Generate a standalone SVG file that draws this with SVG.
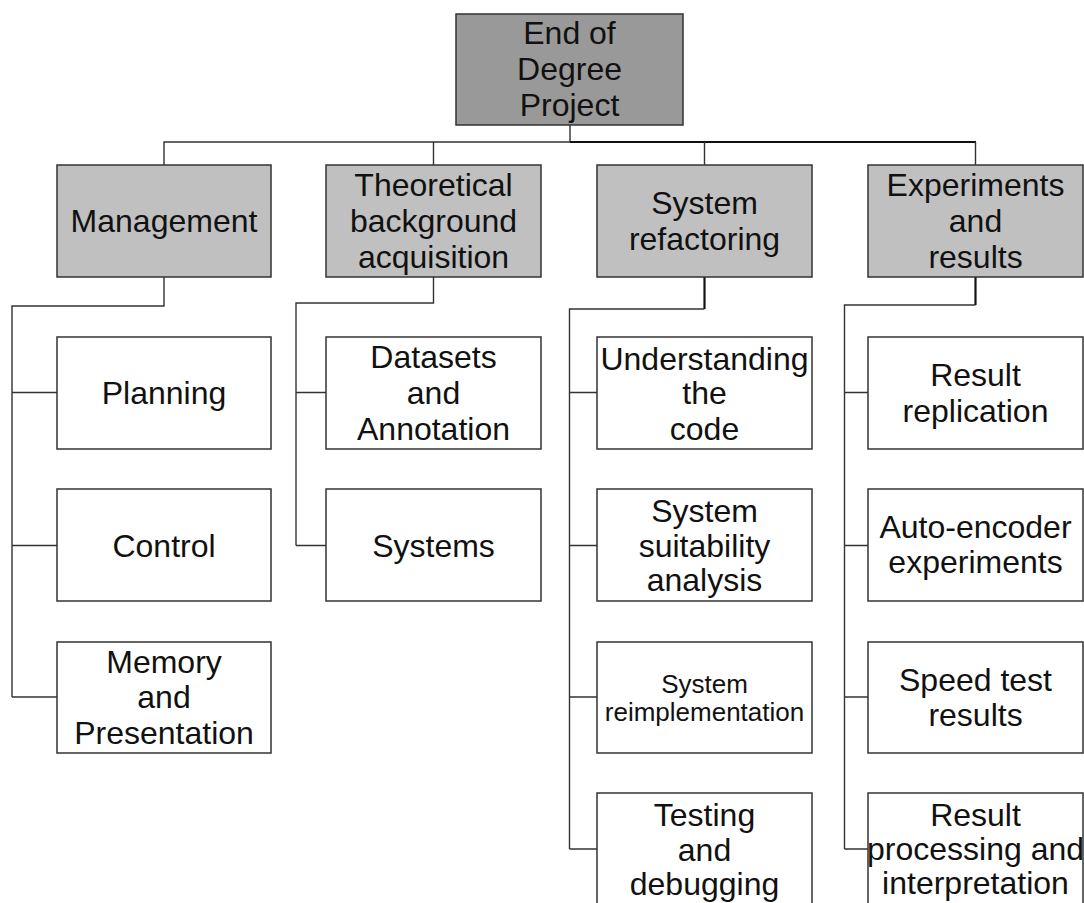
<svg xmlns="http://www.w3.org/2000/svg" width="1084" height="903" viewBox="0 0 1084 903">
  <style>
    .box { stroke: #333; stroke-width: 1.5; }
    .root { fill: #999999; }
    .mid { fill: #c0c0c0; }
    .leaf { fill: #ffffff; }
    text { font-family: "Liberation Sans", Arial, sans-serif; font-size: 32px; fill: #111; text-anchor: middle; }
    .small { font-size: 26px; }
    .wire { fill: none; stroke: #333; stroke-width: 1.4; }
    .wire.bold { stroke: #111; stroke-width: 2.2; }
  </style>
  <rect width="1084" height="903" fill="#ffffff"/>

  <!-- connectors -->
  <g id="connectors">
    <path class="wire" d="M570 125 V142 M164 165 V142 H570"/>
    <path class="wire bold" d="M570 142 H976"/>
    <path class="wire" d="M433.5 142 V165 M704.5 142 V165 M975.5 142 V165"/>
    <!-- Management branch -->
    <path class="wire" d="M164 277 V306 H12 V697 M12 392.5 H57 M12 545.5 H57 M12 697 H57"/>
    <!-- Theoretical background branch -->
    <path class="wire" d="M433.5 277 V303 H296 V545.5 M296 392.5 H326 M296 545.5 H326"/>
    <!-- System refactoring branch -->
    <path class="wire bold" d="M704.5 277 V309"/>
    <path class="wire" d="M704.5 309 H569.5 V849 M569.5 392.5 H597 M569.5 545.5 H597 M569.5 697 H597 M569.5 849 H597"/>
    <!-- Experiments branch -->
    <path class="wire bold" d="M975.5 277 V305"/>
    <path class="wire" d="M975.5 305 H844.5 V849 M844.5 392.5 H868 M844.5 545.5 H868 M844.5 697 H868 M844.5 849 H868"/>
  </g>

  <g id="root">
    <rect class="box root" x="456" y="14" width="227" height="111"/>
    <text x="569.5" y="44">End of</text>
    <text x="569.5" y="80">Degree</text>
    <text x="569.5" y="116">Project</text>
  </g>

  <g id="management">
    <rect class="box mid" x="57" y="165" width="214" height="112"/>
    <text x="164" y="232">Management</text>
  </g>
  <g id="theoretical">
    <rect class="box mid" x="326" y="165" width="215" height="112"/>
    <text x="433.5" y="196">Theoretical</text>
    <text x="433.5" y="232">background</text>
    <text x="433.5" y="268">acquisition</text>
  </g>
  <g id="refactoring">
    <rect class="box mid" x="597" y="165" width="215" height="112"/>
    <text x="704.5" y="214">System</text>
    <text x="704.5" y="250">refactoring</text>
  </g>
  <g id="experiments">
    <rect class="box mid" x="868" y="165" width="215" height="112"/>
    <text x="975.5" y="196">Experiments</text>
    <text x="975.5" y="232">and</text>
    <text x="975.5" y="268">results</text>
  </g>

  <!-- Management children -->
  <g id="planning">
    <rect class="box leaf" x="57" y="337" width="214" height="112"/>
    <text x="164" y="404">Planning</text>
  </g>
  <g id="control">
    <rect class="box leaf" x="57" y="489" width="214" height="112"/>
    <text x="164" y="557">Control</text>
  </g>
  <g id="memory">
    <rect class="box leaf" x="57" y="642" width="214" height="111"/>
    <text x="164" y="673">Memory</text>
    <text x="164" y="708">and</text>
    <text x="164" y="744">Presentation</text>
  </g>

  <!-- Theoretical background children -->
  <g id="datasets">
    <rect class="box leaf" x="326" y="337" width="215" height="112"/>
    <text x="433.5" y="368">Datasets</text>
    <text x="433.5" y="404">and</text>
    <text x="433.5" y="440">Annotation</text>
  </g>
  <g id="systems">
    <rect class="box leaf" x="326" y="489" width="215" height="112"/>
    <text x="433.5" y="557">Systems</text>
  </g>

  <!-- System refactoring children -->
  <g id="understanding">
    <rect class="box leaf" x="597" y="337" width="215" height="112"/>
    <text x="704.5" y="370">Understanding</text>
    <text x="704.5" y="404">the</text>
    <text x="704.5" y="440">code</text>
  </g>
  <g id="suitability">
    <rect class="box leaf" x="597" y="489" width="215" height="112"/>
    <text x="704.5" y="522">System</text>
    <text x="704.5" y="557">suitability</text>
    <text x="704.5" y="591">analysis</text>
  </g>
  <g id="reimplementation">
    <rect class="box leaf" x="597" y="642" width="215" height="111"/>
    <text class="small" x="704.5" y="693">System</text>
    <text class="small" x="704.5" y="721">reimplementation</text>
  </g>
  <g id="testing">
    <rect class="box leaf" x="597" y="793" width="215" height="112"/>
    <text x="704.5" y="826">Testing</text>
    <text x="704.5" y="861">and</text>
    <text x="704.5" y="895">debugging</text>
  </g>

  <!-- Experiments children -->
  <g id="replication">
    <rect class="box leaf" x="868" y="337" width="215" height="112"/>
    <text x="975.5" y="386">Result</text>
    <text x="975.5" y="422">replication</text>
  </g>
  <g id="autoencoder">
    <rect class="box leaf" x="868" y="489" width="215" height="112"/>
    <text x="975.5" y="538">Auto-encoder</text>
    <text x="975.5" y="573">experiments</text>
  </g>
  <g id="speed">
    <rect class="box leaf" x="868" y="642" width="215" height="111"/>
    <text x="975.5" y="691">Speed test</text>
    <text x="975.5" y="726">results</text>
  </g>
  <g id="processing">
    <rect class="box leaf" x="868" y="793" width="215" height="112"/>
    <text x="975.5" y="826">Result</text>
    <text x="975.5" y="860">processing and</text>
    <text x="975.5" y="894">interpretation</text>
  </g>
</svg>
